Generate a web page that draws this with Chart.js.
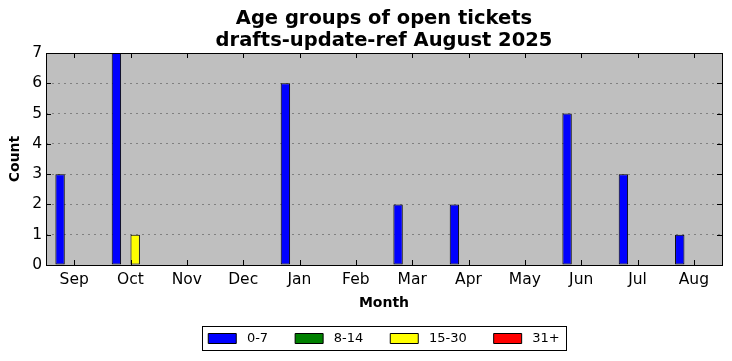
<!DOCTYPE html>
<html>
<head>
<meta charset="utf-8">
<script src="https://cdn.jsdelivr.net/npm/chart.js@4/dist/chart.umd.min.js"></script>
<style>
  html, body { margin: 0; padding: 0; background: #fff; }
  #wrap { width: 732px; height: 361px; }
</style>
</head>
<body>
<div id="wrap"><canvas id="ticketChart"></canvas></div>
<script>
const months = ["Sep", "Oct", "Nov", "Dec", "Jan", "Feb", "Mar", "Apr", "May", "Jun", "Jul", "Aug"];
const age0to7 = [3, 7, 0, 0, 6, 0, 2, 2, 0, 5, 3, 1];
const age8to14 = [0, 0, 0, 0, 0, 0, 0, 0, 0, 0, 0, 0];
const age15to30 = [0, 1, 0, 0, 0, 0, 0, 0, 0, 0, 0, 0];
const age31plus = [0, 0, 0, 0, 0, 0, 0, 0, 0, 0, 0, 0];
const yTicks = [0, 1, 2, 3, 4, 5, 6, 7];

Chart.defaults.font.family = "'DejaVu Sans', sans-serif";
Chart.defaults.color = "#000";

// grey plot background, black frame and inward ticks like the matplotlib classic style
const framePlugin = {
    id: 'frame',
    afterInit(chart) {
        // fixed legend height so the plot keeps its place
        const lg = chart.legend;
        if (lg) {
            const fit = lg.fit.bind(lg);
            lg.fit = function() { fit(); this.height = 56; };
        }
    },
    beforeDraw(chart) {
        const a = chart.chartArea;
        const ctx = chart.ctx;
        ctx.save();
        ctx.fillStyle = '#bfbfbf';
        ctx.fillRect(a.left, a.top, a.right - a.left, a.bottom - a.top);
        ctx.restore();
    },
    afterDraw(chart) {
        const a = chart.chartArea;
        const ctx = chart.ctx;
        const x = chart.scales.x;
        const y = chart.scales.y;
        ctx.save();
        ctx.strokeStyle = '#000';
        ctx.lineWidth = 1;
        ctx.beginPath();
        x.ticks.forEach((t, i) => {
            const px = Math.round(x.getPixelForTick(i)) + 0.5;
            ctx.moveTo(px, a.bottom); ctx.lineTo(px, a.bottom - 5);
            ctx.moveTo(px, a.top); ctx.lineTo(px, a.top + 5);
        });
        y.ticks.forEach((t, i) => {
            const py = Math.round(y.getPixelForTick(i)) + 0.5;
            ctx.moveTo(a.left, py); ctx.lineTo(a.left + 5, py);
            ctx.moveTo(a.right, py); ctx.lineTo(a.right - 5, py);
        });
        ctx.stroke();
        ctx.strokeRect(Math.round(a.left) + 0.5, Math.round(a.top) + 0.5,
            Math.round(a.right - a.left), Math.round(a.bottom - a.top));

        // box round the legend
        const lg = chart.legend;
        if (lg && lg.legendHitBoxes && lg.legendHitBoxes.length) {
            const boxes = lg.legendHitBoxes;
            const left = Math.min(...boxes.map(b => b.left)) - 6;
            const right = Math.max(...boxes.map(b => b.left + b.width)) + 7;
            const top = Math.min(...boxes.map(b => b.top)) - 6;
            const bottom = Math.max(...boxes.map(b => b.top + b.height)) + 5;
            ctx.strokeRect(Math.round(left) + 0.5, Math.round(top) + 0.5,
                Math.round(right - left), Math.round(bottom - top));
        }
        ctx.restore();
    }
};

function makeSet(label, data, color) {
    return {
        label: label,
        data: data,
        backgroundColor: color,
        borderColor: '#000',
        borderWidth: 1,
        borderSkipped: false,
        categoryPercentage: 0.667,
        barPercentage: 1.0
    };
}

const ctx = document.getElementById('ticketChart');
new Chart(ctx, {
    type: 'bar',
    data: {
        labels: months,
        datasets: [
            makeSet('0-7', age0to7, '#0000ff'),
            makeSet('8-14', age8to14, '#008000'),
            makeSet('15-30', age15to30, '#ffff00'),
            makeSet('31+', age31plus, '#ff0000')
        ]
    },
    options: {
        responsive: true,
        maintainAspectRatio: false,
        animation: false,
        layout: {
            padding: { left: 0, right: 10, top: 0, bottom: 0 }
        },
        scales: {
            x: {
                grid: { display: false, drawTicks: false },
                border: { display: false },
                ticks: { font: { size: 15.5 }, padding: 6, maxRotation: 0 },
                title: {
                    display: true,
                    text: 'Month',
                    font: { size: 14, weight: 'bold' },
                    padding: { top: 0, bottom: -6.4 }
                },
                afterFit(scale) { scale.height = 40; }
            },
            y: {
                min: 0,
                max: 7,
                afterBuildTicks(scale) { scale.ticks = yTicks.map(v => ({ value: v })); },
                grid: { color: '#808080', drawTicks: false, lineWidth: 1 },
                border: { display: false, dash: [2, 4] },
                ticks: { font: { size: 15.5 }, padding: 4 },
                title: {
                    display: true,
                    text: 'Count',
                    font: { size: 14, weight: 'bold' },
                    padding: { top: 7, bottom: 0 }
                },
                afterFit(scale) { scale.width = 46; }
            }
        },
        plugins: {
            title: {
                display: true,
                fullSize: false,
                text: ['Age groups of open tickets', 'drafts-update-ref August 2025'],
                font: { size: 19.5, weight: 'bold', lineHeight: '22px' },
                padding: { top: 8, bottom: 1 }
            },
            legend: {
                display: true,
                position: 'bottom',
                fullSize: false,
                labels: {
                    boxWidth: 28,
                    boxHeight: 10,
                    padding: 27,
                    font: { size: 13 },
                    generateLabels(chart) {
                        return chart.data.datasets.map((ds, i) => ({
                            text: ' ' + ds.label,
                            fillStyle: ds.backgroundColor,
                            strokeStyle: '#000',
                            lineWidth: 1,
                            datasetIndex: i
                        }));
                    }
                }
            },
            tooltip: { enabled: false }
        }
    },
    plugins: [framePlugin]
});
</script>
</body>
</html>
